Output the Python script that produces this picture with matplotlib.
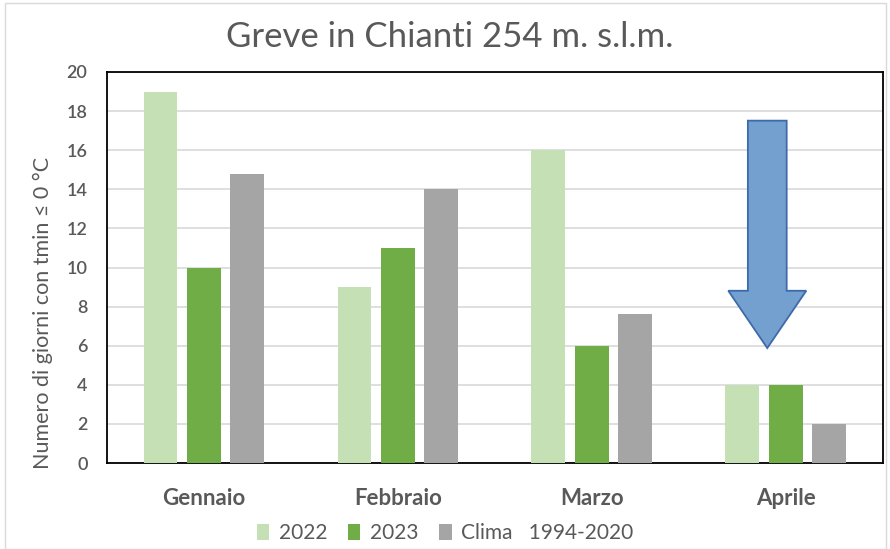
import numpy as np
import matplotlib.pyplot as plt
from matplotlib.patches import FancyArrow, Rectangle

mesi = ["Gennaio", "Febbraio", "Marzo", "Aprile"]
giorni_2022 = [19, 9, 16, 4]
giorni_2023 = [10, 11, 6, 4]
clima = [14.8, 14.0, 7.6, 2.0]
serie = ["2022", "2023", "Clima   1994-2020"]
colori = ["#c5e0b4", "#70ad47", "#a5a5a5"]

plt.rcParams['font.family'] = ['Lato', 'DejaVu Sans']
grigio = "#595959"

fig = plt.figure(figsize=(8.9, 5.49), dpi=100)
ax = fig.add_axes([0.1202, 0.1566, 0.8718, 0.7123])

x = np.arange(len(mesi))
w = 0.175
off = 0.224
for i, vals in enumerate([giorni_2022, giorni_2023, clima]):
    ax.bar(x + (i - 1) * off, vals, w, color=colori[i], label=serie[i], zorder=3)

ax.set_xlim(-0.5, 3.5)
ax.set_ylim(0, 20)
ax.set_yticks(range(0, 21, 2))
ax.set_xticks(x)
ax.set_xticklabels(mesi, fontweight='bold', fontsize=16, color=grigio)
ax.tick_params(axis='y', length=0, labelsize=13, labelcolor=grigio, pad=14)
for t in ax.get_yticklabels():
    t.set_fontweight('semibold')
ax.tick_params(axis='x', length=0, pad=18)
ax.grid(axis='y', color="#d9d9d9", linewidth=1.2, zorder=0)
for s in ax.spines.values():
    s.set_color("black")
    s.set_linewidth(1.3)

fig.text(0.048, 0.43, "Numero di giorni con tmin \u2264 0 \u00b0C", rotation=90,
         ha='center', va='center', fontsize=15.5, color=grigio)
fig.text(0.505, 0.932, "Greve in Chianti 254 m. s.l.m.", ha='center', va='center',
         fontsize=25, color=grigio)

# freccia blu su Aprile
arrow = FancyArrow(2.904, 17.51, 0, 5.88 - 17.51, width=0.2, head_width=0.402,
                   head_length=2.93, length_includes_head=True,
                   facecolor="#74a0d0", edgecolor="#3d6aa8", linewidth=1.3, zorder=4)
ax.add_patch(arrow)

leg = fig.legend(loc='center', bbox_to_anchor=(0.5, 0.029), ncol=3, frameon=False,
                 fontsize=15, handlelength=0.6, handleheight=0.8, handletextpad=0.45,
                 columnspacing=1.0)
for t in leg.get_texts():
    t.set_color(grigio)

fig.patches.append(Rectangle((0.006, 0.0), 0.99, 0.995, transform=fig.transFigure,
                             fill=False, edgecolor="#d9d9d9", linewidth=1.0))

fig.savefig("out.png", dpi=100)
